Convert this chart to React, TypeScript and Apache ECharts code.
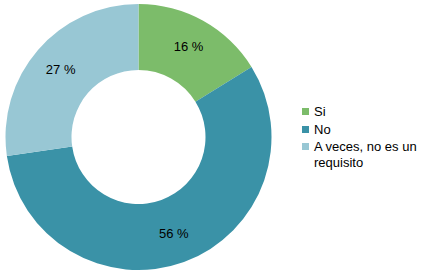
import React, { useEffect, useRef } from "react";
import * as echarts from "echarts";

const categories = ["Si", "No", "A veces, no es un requisito"];
const values = [16, 56, 27];
const colors = ["#7cbc6a", "#3a92a7", "#98c7d4"];

const FONT = "'Liberation Sans', Arial, sans-serif";

export default function App() {
  const ref = useRef<HTMLDivElement>(null);
  useEffect(() => {
    if (!ref.current) return;
    const chart = echarts.init(ref.current, undefined, { renderer: "svg" });
    const legendBase = {
      orient: "vertical" as const,
      left: 302,
      padding: 0,
      itemWidth: 7,
      itemHeight: 7,
      itemGap: 2,
      icon: "rect",
      selectedMode: false,
      textStyle: { fontFamily: FONT, fontSize: 13, color: "#000", lineHeight: 16 },
    };
    chart.setOption({
      animation: false,
      legend: [
        { ...legendBase, top: 103.5, data: [categories[0]] },
        { ...legendBase, top: 121.5, data: [categories[1]] },
        {
          ...legendBase,
          top: 122.5,
          data: [categories[2]],
          formatter: () => " \nA veces, no es un\nrequisito",
        },
      ],
      series: [
        {
          type: "pie",
          center: [138.5, 137],
          radius: [67, 133],
          startAngle: 90,
          clockwise: true,
          silent: true,
          label: {
            show: true,
            position: "inside",
            formatter: "{c} %",
            color: "#000",
            fontFamily: FONT,
            fontSize: 13,
          },
          labelLine: { show: false },
          itemStyle: { borderWidth: 0 },
          emphasis: { disabled: true },
          data: categories.map((name, i) => ({
            name,
            value: values[i],
            itemStyle: { color: colors[i] },
          })),
        },
      ],
    });
    return () => chart.dispose();
  }, []);
  return (
    <div
      ref={ref}
      style={{ position: "fixed", left: 0, top: 0, width: 431, height: 279, background: "#fff" }}
    />
  );
}
